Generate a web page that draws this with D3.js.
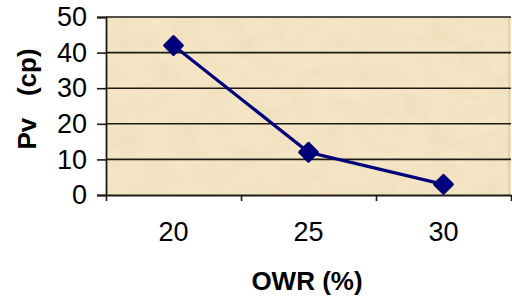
<!DOCTYPE html>
<html>
<head>
<meta charset="utf-8">
<script src="https://cdn.jsdelivr.net/npm/d3@7"></script>
<style>
  body { margin: 0; background: #fff; }
  svg { display: block; font-family: "Liberation Sans", Arial, sans-serif; }
</style>
</head>
<body>
<svg id="chart"></svg>
<script>
const width = 512;
const height = 299;

// data
const owr = ['20', '25', '30'];
const pv = [42, 12, 3];
const yTicks = [0, 10, 20, 30, 40, 50];

const plot = { left: 106, right: 511, top: 17, bottom: 195 };
const ink = '#1e1a16';

const svg = d3.select('#chart').attr('width', width).attr('height', height);

// parchment-like texture for the plot area
const defs = svg.append('defs');
const filter = defs.append('filter').attr('id', 'paper')
  .attr('x', 0).attr('y', 0).attr('width', 1).attr('height', 1);
filter.append('feTurbulence')
  .attr('type', 'fractalNoise')
  .attr('baseFrequency', '0.035 0.06')
  .attr('numOctaves', 3)
  .attr('seed', 11);
filter.append('feColorMatrix')
  .attr('values', '0 0 0 0 0.75  0 0 0 0 0.62  0 0 0 0 0.38  0 0 0 0.45 -0.12');
filter.append('feComposite').attr('in2', 'SourceGraphic').attr('operator', 'in');

const x = d3.scaleBand().domain(owr).range([plot.left, plot.right]).padding(0);
const xEdge = d3.scaleLinear().domain([0, owr.length]).range([plot.left, plot.right]);
const y = d3.scaleLinear().domain([0, 50]).range([plot.bottom, plot.top]);

svg.append('rect')
  .attr('x', plot.left).attr('y', plot.top)
  .attr('width', plot.right - plot.left).attr('height', plot.bottom - plot.top)
  .attr('fill', '#f5e6c6');
svg.append('rect')
  .attr('x', plot.left).attr('y', plot.top)
  .attr('width', plot.right - plot.left).attr('height', plot.bottom - plot.top)
  .attr('fill', '#f5e6c6')
  .attr('filter', 'url(#paper)');

// right edge of the plot area
svg.append('line')
  .attr('x1', plot.right - 2).attr('x2', plot.right - 2)
  .attr('y1', plot.top).attr('y2', plot.bottom)
  .attr('stroke', '#d8ccb6').attr('stroke-width', 1.5);

// gridlines
svg.append('g')
  .selectAll('line')
  .data(yTicks.filter(d => d > 0))
  .join('line')
  .attr('x1', plot.left).attr('x2', plot.right)
  .attr('y1', d => y(d)).attr('y2', d => y(d))
  .attr('stroke', ink).attr('stroke-width', 1.6);

// y axis
const yAxis = svg.append('g')
  .attr('transform', `translate(${plot.left}, 0)`)
  .call(d3.axisLeft(y).tickValues(yTicks).tickSize(9).tickPadding(10));
yAxis.select('.domain').attr('stroke', ink).attr('stroke-width', 1.8);
yAxis.selectAll('.tick line').attr('stroke', ink).attr('stroke-width', 1.6);
yAxis.selectAll('.tick text')
  .attr('font-size', 27).attr('fill', '#000')
  .attr('font-family', '"Liberation Sans", Arial, sans-serif');

// x axis: ticks on category edges, labels at centres
const xAxisTicks = svg.append('g')
  .attr('transform', `translate(0, ${plot.bottom})`)
  .call(d3.axisBottom(xEdge).tickValues([0, 1, 2, 3]).tickFormat('').tickSize(6).tickSizeOuter(0));
xAxisTicks.select('.domain').attr('stroke', ink).attr('stroke-width', 1.8);
xAxisTicks.selectAll('.tick line').attr('stroke', ink).attr('stroke-width', 1.6);

const xAxis = svg.append('g')
  .attr('transform', `translate(0, ${plot.bottom})`)
  .call(d3.axisBottom(x).tickSize(0).tickPadding(27));
xAxis.select('.domain').remove();
xAxis.selectAll('.tick text')
  .attr('font-size', 27).attr('fill', '#000')
  .attr('font-family', '"Liberation Sans", Arial, sans-serif');

// series
const points = owr.map((c, i) => ({ c, v: pv[i] }));
svg.append('path')
  .datum(points)
  .attr('fill', 'none')
  .attr('stroke', '#00007a')
  .attr('stroke-width', 3.2)
  .attr('d', d3.line().x(d => x(d.c) + x.bandwidth() / 2).y(d => y(d.v)));

svg.append('g')
  .selectAll('path')
  .data(points)
  .join('path')
  .attr('transform', d => `translate(${x(d.c) + x.bandwidth() / 2}, ${y(d.v)})`)
  .attr('d', d3.symbol(d3.symbolDiamond2, 200)())
  .attr('fill', '#000080')
  .attr('stroke', '#000075')
  .attr('stroke-width', 3)
  .attr('stroke-linejoin', 'round');

// axis titles
svg.append('text')
  .attr('x', 307).attr('y', 290)
  .attr('text-anchor', 'middle')
  .attr('font-size', 26).attr('font-weight', 'bold')
  .text('OWR (%)');

svg.append('text')
  .attr('transform', 'rotate(-90)')
  .attr('x', -99).attr('y', 36)
  .attr('text-anchor', 'middle')
  .attr('font-size', 26).attr('font-weight', 'bold')
  .style('white-space', 'pre')
  .text('Pv   (cp)');
</script>
</body>
</html>
